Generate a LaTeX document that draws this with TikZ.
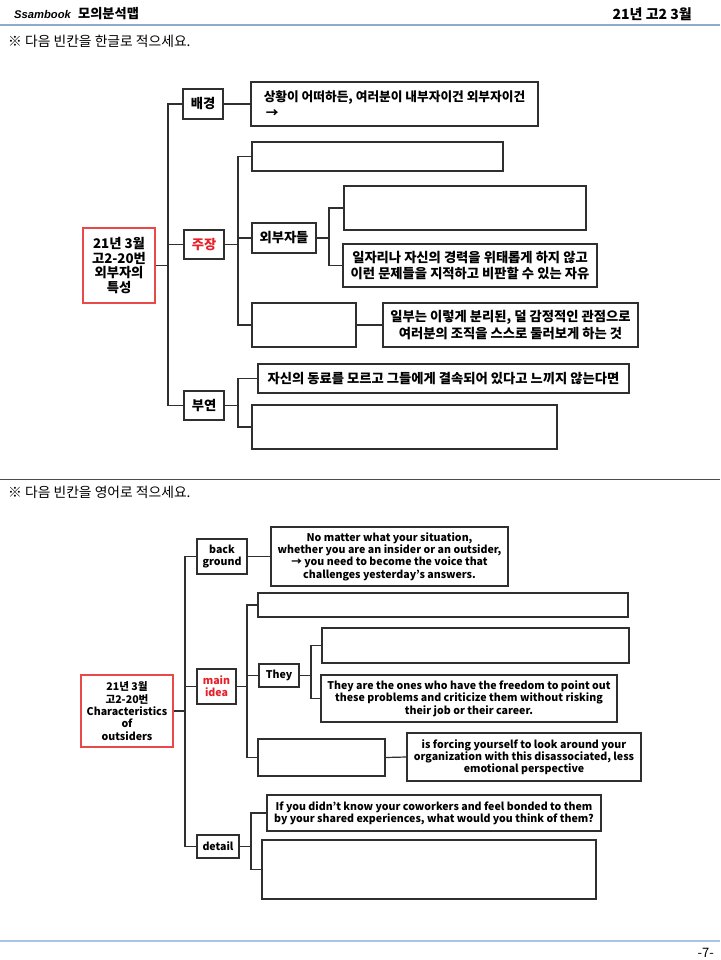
\documentclass[tikz,border=0pt]{standalone}
\usepackage{fontspec}
\setmainfont{Noto Sans CJK KR}
\newfontfamily\kr{Noto Sans CJK KR}
\newfontfamily\lsans{Liberation Sans}
\definecolor{ln}{HTML}{2F2F2F}
\definecolor{rd}{HTML}{E8202A}
\definecolor{rdb}{HTML}{E84A4A}
\definecolor{hdr}{HTML}{8FAACB}
\definecolor{ftr}{HTML}{A9C5E3}
\begin{document}
\begin{tikzpicture}[x=1pt,y=-1pt,
  kbox/.style={draw=ln,line width=1.5pt,inner sep=0pt,align=center,
    font=\kr\bfseries\fontsize{13.3}{16.5}\selectfont},
  krbox/.style={kbox,draw=rdb,line width=1.4pt,font=\kr\bfseries\fontsize{13.3}{14.8}\selectfont},
  ebox/.style={draw=ln,line width=1.2pt,inner sep=0pt,align=center,
    font=\kr\bfseries\fontsize{10.6}{12.3}\selectfont},
  erbox/.style={ebox,draw=rdb,line width=1.2pt},
  link/.style={draw=ln,line width=1.5pt},
  elink/.style={draw=ln,line width=1.2pt},
  sz/.style 2 args={minimum width=#1pt,minimum height=#2pt}]
\useasboundingbox (0,0) rectangle (720,960);
\fill[white] (0,0) rectangle (720,960);

% ---------- header ----------
\node[anchor=west,inner sep=0pt,font=\lsans\bfseries\itshape\fontsize{11.2}{14}\selectfont] (brand) at (14,14) {Ssambook};
\node[anchor=west,inner sep=0pt,font=\kr\bfseries\fontsize{13.2}{15}\selectfont] (ttl) at (78,14) {모의분석맵};
\node[anchor=east,inner sep=0pt,font=\kr\bfseries\fontsize{14}{15}\selectfont] (date) at (692,14) {21년 고2 3월};
\coordinate (hl) at (0,25); \coordinate (hr) at (720,25);
\draw[hdr,line width=1.3pt] (hl) -- (hr);
\node[anchor=west,inner sep=0pt,font=\kr\fontsize{13.8}{14}\selectfont] (ins1) at (8,41) {※ 다음 빈칸을 한글로 적으세요.};

% ---------- top map ----------
\node[krbox,sz={72}{75}] (root) at (119,265.5) {21년 3월\\고2-20번\\외부자의\\특성};
\node[kbox,sz={40}{30}] (bg) at (203,104) {배경};
\node[kbox,sz={287}{44},align=left,font=\kr\bfseries\fontsize{12.7}{16}\selectfont] (bgT) at (394.5,104) {상황이 어떠하든, 여러분이 내부자이건 외부자이건\\\,→};
\node[kbox,sz={40}{29},text=rd] (claim) at (204,244.5) {주장};
\node[kbox,sz={251}{29}] (cA) at (377.5,156.5) {};
\node[kbox,sz={64}{30}] (out) at (284,238) {외부자들};
\node[kbox,sz={242}{44}] (cB) at (465,208) {};
\node[kbox,sz={254}{43}] (cC) at (470,265.5) {일자리나 자신의 경력을 위태롭게 하지 않고\\이런 문제들을 지적하고 비판할 수 있는 자유};
\node[kbox,sz={104}{44}] (cD) at (304,325) {};
\node[kbox,sz={255}{44}] (cE) at (510.5,325) {일부는 이렇게 분리된, 덜 감정적인 관점으로\\여러분의 조직을 스스로 둘러보게 하는 것};
\node[kbox,sz={40}{29}] (det) at (204,405.5) {부연};
\node[kbox,sz={371}{29}] (dF) at (443.5,378.5) {자신의 동료를 모르고 그들에게 결속되어 있다고 느끼지 않는다면};
\node[kbox,sz={305}{44}] (dG) at (404.5,427) {};

\coordinate (T1) at (168,0);
\coordinate (T2) at (238,0);
\coordinate (T3) at (329,0);
\draw[link] (root.east) -- (root.east -| T1);
\draw[link] (bg.west) -- (bg.west -| T1) -- (det.west -| T1) -- (det.west);
\draw[link] (claim.west) -- (claim.west -| T1);
\draw[link] (bg.east) -- (bgT.west);
\draw[link] (claim.east) -- (claim.east -| T2);
\draw[link] (cA.west) -- (cA.west -| T2) -- (cD.west -| T2) -- (cD.west);
\draw[link] (out.west) -- (out.west -| T2);
\draw[link] (out.east) -- (out.east -| T3);
\draw[link] (cB.west) -- (cB.west -| T3) -- (cC.west -| T3) -- (cC.west);
\draw[link] (cD.east) -- (cE.west);
\draw[link] (det.east) -- (det.east -| T2);
\draw[link] (dF.west) -- (dF.west -| T2) -- (dG.west -| T2) -- (dG.west);

% ---------- separator ----------
\coordinate (sl) at (0,479); \coordinate (sr) at (720,479);
\draw[black!70,line width=1pt] (sl) -- (sr);
\node[anchor=west,inner sep=0pt,font=\kr\fontsize{13.8}{14}\selectfont] (ins2) at (8,492) {※ 다음 빈칸을 영어로 적으세요.};

% ---------- bottom map ----------
\node[erbox,sz={92}{72}] (root2) at (127,711) {21년 3월\\고2-20번\\Characteristics\\of\\outsiders};
\node[ebox,sz={50}{35}] (bg2) at (222,556.5) {back\\ground};
\node[ebox,sz={237}{59}] (bg2T) at (389.5,556.5) {No matter what your situation,\\whether you are an insider or an outsider,\\→ you need to become the voice that\\challenges yesterday’s answers.};
\node[ebox,sz={39}{35},text=rd] (mi) at (216.5,686.5) {main\\idea};
\node[ebox,sz={370}{24}] (mA) at (443,605) {};
\node[ebox,sz={40}{23}] (they) at (279,675.5) {They};
\node[ebox,sz={307}{35}] (mB) at (475.5,645.5) {};
\node[ebox,sz={296}{47}] (mC) at (469,698.5) {They are the ones who have the freedom to point out\\these problems and criticize them without risking\\their job or their career.};
\node[ebox,sz={127}{37}] (mD) at (321.5,757.5) {};
\node[ebox,sz={234}{48}] (mE) at (524,757) {is forcing yourself to look around your\\organization with this disassociated, less\\emotional perspective};
\node[ebox,sz={42}{23}] (det2) at (218,846.5) {detail};
\node[ebox,sz={334}{36}] (dF2) at (434,813) {If you didn’t know your coworkers and feel bonded to them\\by your shared experiences, what would you think of them?};
\node[ebox,sz={334}{59}] (dG2) at (429,869.5) {};

\coordinate (B1) at (185,0);
\coordinate (B2) at (247,0);
\coordinate (B3) at (311,0);
\coordinate (B4) at (251,0);
\draw[elink] (root2.east) -- (root2.east -| B1);
\draw[elink] (bg2.west) -- (bg2.west -| B1) -- (det2.west -| B1) -- (det2.west);
\draw[elink] (mi.west) -- (mi.west -| B1);
\draw[elink] (bg2.east) -- (bg2T.west);
\draw[elink] (mi.east) -- (mi.east -| B2);
\draw[elink] (mA.west) -- (mA.west -| B2) -- (mD.west -| B2) -- (mD.west);
\draw[elink] (they.west) -- (they.west -| B2);
\draw[elink] (they.east) -- (they.east -| B3);
\draw[elink] (mB.west) -- (mB.west -| B3) -- (mC.west -| B3) -- (mC.west);
\draw[elink] (mD.east) -- (mE.west);
\draw[elink] (det2.east) -- (det2.east -| B4);
\draw[elink] (dF2.west) -- (dF2.west -| B4) -- (dG2.west -| B4) -- (dG2.west);

% ---------- footer ----------
\coordinate (fl) at (0,941); \coordinate (fr) at (720,941);
\draw[ftr,line width=1.2pt] (fl) -- (fr);
\node[anchor=east,inner sep=0pt,font=\kr\fontsize{13}{14}\selectfont] (pg) at (714,953) {-7-};
\end{tikzpicture}
\end{document}
